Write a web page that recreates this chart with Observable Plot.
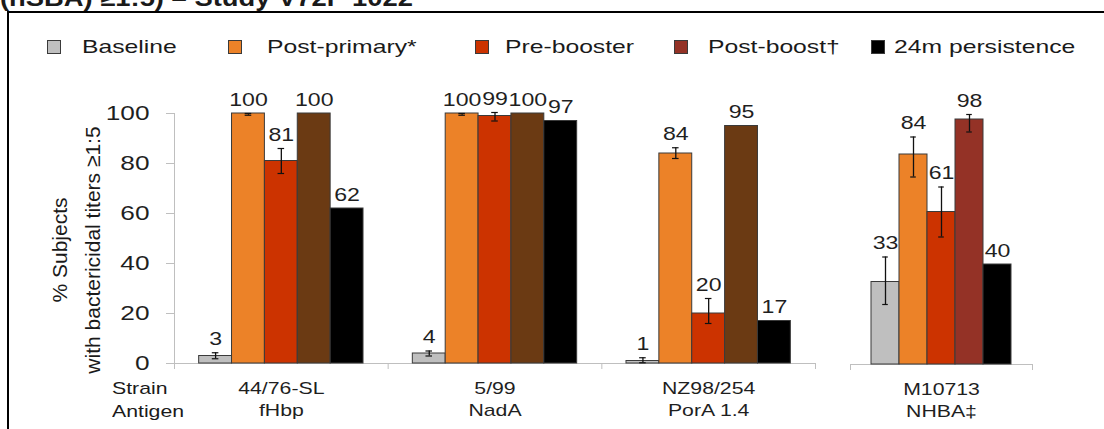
<!DOCTYPE html>
<html>
<head>
<meta charset="utf-8">
<script src="https://cdn.jsdelivr.net/npm/d3@7"></script>
<script src="https://cdn.jsdelivr.net/npm/@observablehq/plot@0.6"></script>
<style>
  html, body { margin: 0; padding: 0; background: #fff; }
  #wrap { position: relative; width: 1104px; height: 429px; overflow: hidden; background: #fff;
          font-family: "Liberation Sans", Arial, sans-serif; color: #1a1a1a; }
  #title { position: absolute; left: 0; top: -14px; font-weight: bold; font-size: 24px; line-height: 24px;
           white-space: nowrap; transform: scaleX(1.14); transform-origin: left top; }
  #box { position: absolute; left: 7px; top: 11px; width: 1200px; height: 500px;
         border-top: 2px solid #000; border-left: 2px solid #000; }
  .sw { position: absolute; width: 14px; height: 14px; box-sizing: border-box; border: 1px solid #3a3a3a; }
  .lt { position: absolute; font-size: 19px; line-height: 20px; white-space: nowrap;
        transform: scaleX(1.3); transform-origin: left center; }
  .panel { position: absolute; top: 60px; }
  #ylab { position: absolute; left: -54px; top: 217px; width: 260px; height: 66px; text-align: center;
          font-size: 21px; line-height: 33px; white-space: nowrap; transform: rotate(-90deg); transform-origin: center; }
  #rowlab { position: absolute; left: 112px; top: 377px; font-size: 17px; line-height: 23px;
            transform: scaleX(1.25); transform-origin: left top; }
</style>
</head>
<body>
<div id="wrap">
  <div id="title">(hSBA) ≥1:5) – Study V72P 1022</div>
  <div id="box"></div>
  <div id="p1" class="panel" style="left:0px;width:830px;"></div>
  <div id="p2" class="panel" style="left:830px;width:274px;"></div>
  <div id="legend"></div>
  <div id="ylab">% Subjects<br>with bactericidal titers ≥1:5</div>
  <div id="rowlab">Strain<br>Antigen</div>
</div>
<script>
// ---------- data ----------
const strains = ["44/76-SL", "5/99", "NZ98/254", "M10713"];
const antigens = ["fHbp", "NadA", "PorA 1.4", "NHBA‡"];
const seriesNames = ["Baseline", "Post-primary*", "Pre-booster", "Post-boost†", "24m persistence"];

const baseline       = [3, 4, 1, 33];
const postPrimary    = [100, 100, 84, 84];
const preBooster     = [81, 99, 20, 61];
const postBoost      = [100, 100, 95, 98];
const persistence24m = [62, 97, 17, 40];

// error bars [low, high]; null = not shown
const baselineCI       = [[1.9, 4.3], [3, 5], [0.3, 2.3], [24, 43]];
const postPrimaryCI    = [[99.3, 100], [99.3, 100], [82, 86.3], [75, 91]];
const preBoosterCI     = [[76, 86], [97, 100.4], [16, 26], [51, 71]];
const postBoostCI      = [null, null, null, [93, 100]];
const persistence24mCI = [null, null, null, null];

const yTicks = [0, 20, 40, 60, 80, 100];

// ---------- styles ----------
const seriesColors = ["#bfbfbf", "#ec8228", "#cc3300", "#6b3a13", "#000000"];
const postBoostColorM10713 = "#943226";
const legendColors = ["#bfbfbf", "#ec8228", "#cc3300", "#943226", "#000000"];
const axisGray = "#bfbfbf";
const textColor = "#1f1f1f";

// ---------- build table ----------
const valueSeries = [baseline, postPrimary, preBooster, postBoost, persistence24m];
const ciSeries = [baselineCI, postPrimaryCI, preBoosterCI, postBoostCI, persistence24mCI];
const rows = [];
strains.forEach((s, g) => seriesNames.forEach((name, k) => {
  const ci = ciSeries[k][g];
  rows.push({g, k, strain: s, series: name, value: valueSeries[k][g],
             lo: ci ? ci[0] : null, hi: ci ? ci[1] : null});
}));

const STEP = 6.5; // 5 bars + gap, in bar units

function stretchText(svg, s) {
  svg.querySelectorAll("text").forEach(t => {
    const tr = t.getAttribute("transform");
    if (tr) t.setAttribute("transform", tr + ` scale(${s},1)`);
    else {
      const x = +t.getAttribute("x") || 0, y = +t.getAttribute("y") || 0;
      t.removeAttribute("x"); t.removeAttribute("y");
      t.setAttribute("transform", `translate(${x},${y}) scale(${s},1)`);
    }
  });
}

function panel(groupIdx, opt) {
  const data = rows.filter(d => groupIdx.includes(d.g)).map(d => ({...d, local: groupIdx.indexOf(d.g)}));
  const n = groupIdx.length;
  const pos = d => d.local * STEP + d.k;
  const errs = data.filter(d => d.lo != null);
  const fill = d => (d.k === 3 && d.g === 3) ? postBoostColorM10713 : seriesColors[d.k];
  const xmin = -0.75, xmax = (n - 1) * STEP + 5.75;
  const marks = [];
  if (opt.yAxis) {
    marks.push(
      Plot.ruleX([xmin], {y1: 0, y2: 100, stroke: axisGray}),
      Plot.axisY(yTicks, {tickSize: 8, tickPadding: 17, fontSize: 21, stroke: axisGray, fill: textColor, label: null})
    );
  }
  marks.push(
    Plot.ruleY([0], {stroke: axisGray}),
    Plot.axisX(d3.range(n + 1).map(i => i * STEP - 0.75), {tickSize: 6, tickFormat: () => "", stroke: axisGray, label: null}),
    Plot.axisX(d3.range(n).map(i => i * STEP + 2.5), {
      tickSize: 0, tickPadding: opt.labelPad, fontSize: 17, lineHeight: 1.3, fill: textColor, label: null,
      tickFormat: v => { const g = groupIdx[Math.round((v - 2.5) / STEP)]; return strains[g] + "\n" + antigens[g]; }
    }),
    Plot.text(data, {x: d => pos(d) + 0.5, y: d => Math.max(d.value, d.hi ?? 0), text: d => String(d.value),
                     lineAnchor: "bottom", dy: -8, fontSize: 18.5, fill: textColor}),
    Plot.rect(data, {x1: pos, x2: d => pos(d) + 1, y1: 0, y2: "value", fill, stroke: "#3a3a3a", strokeWidth: 1}),
    Plot.ruleX(errs, {x: d => pos(d) + 0.5, y1: "lo", y2: "hi", stroke: "#111", strokeWidth: 1.3}),
    Plot.ruleY(errs, {y: "lo", x1: d => pos(d) + 0.4, x2: d => pos(d) + 0.6, stroke: "#111", strokeWidth: 1.2}),
    Plot.ruleY(errs, {y: "hi", x1: d => pos(d) + 0.4, x2: d => pos(d) + 0.6, stroke: "#111", strokeWidth: 1.2})
  );
  const svg = Plot.plot({
    width: opt.width, height: 369,
    marginLeft: opt.marginLeft, marginRight: opt.marginRight, marginTop: opt.marginTop, marginBottom: opt.marginBottom,
    x: {domain: [xmin, xmax], axis: null},
    y: {domain: [0, 100], axis: null},
    color: {type: "identity"},
    style: {background: "transparent", overflow: "visible", fontFamily: '"Liberation Sans", Arial, sans-serif', color: textColor},
    marks
  });
  stretchText(svg, 1.25);
  return svg;
}

document.getElementById("p1").appendChild(panel([0, 1, 2], {width: 830, marginLeft: 174, marginRight: 15, marginTop: 53, marginBottom: 66, yAxis: true, labelPad: 15}));
document.getElementById("p2").appendChild(panel([3], {width: 274, marginLeft: 20, marginRight: 72, marginTop: 54, marginBottom: 65, yAxis: false, labelPad: 15}));

// ---------- legend ----------
const legendSwatchX = [47, 228, 475, 674, 871];
const legendTextX = [82, 267, 505, 708, 894];
const legend = document.getElementById("legend");
seriesNames.forEach((name, k) => {
  const sw = document.createElement("div");
  sw.className = "sw";
  sw.style.left = legendSwatchX[k] + "px"; sw.style.top = "40px";
  sw.style.background = legendColors[k];
  legend.appendChild(sw);
  const t = document.createElement("div");
  t.className = "lt";
  t.style.left = legendTextX[k] + "px"; t.style.top = "37px";
  t.textContent = name;
  legend.appendChild(t);
});
</script>
</body>
</html>
